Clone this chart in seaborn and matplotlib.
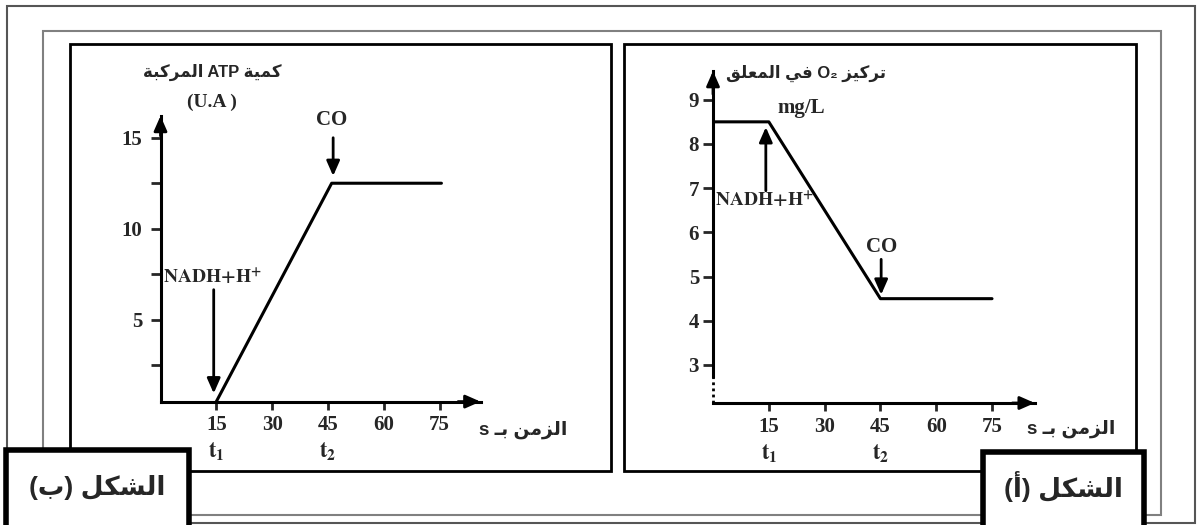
import re

import matplotlib
matplotlib.use("Agg")
import matplotlib.pyplot as plt
from matplotlib.patches import Rectangle
import seaborn as sns

# values
atp_time = [15, 46, 75.5]
atp_amount = [0.5, 12.5, 12.5]
o2_time = [0, 15, 45, 75]
o2_conc = [8.5, 8.5, 4.5, 4.5]

time_ticks = [15, 30, 45, 60, 75]
atp_ticks = [2.5, 5, 7.5, 10, 12.5, 15]
atp_tick_labels = ["", "5", "", "10", "", "15"]
o2_ticks = [3, 4, 5, 6, 7, 8, 9]

# texts
atp_ylabel = "كمية ATP المركبة"
atp_unit = "(U.A )"
o2_ylabel = "تركيز O₂ في المعلق"
o2_unit = "mg/L"
time_label = "الزمن بـ s"
fig_b_label = "الشكل (ب)"
fig_a_label = "الشكل (أ)"

# arabic letters -> (isolated, final, initial, medial)
FORMS = {
    "ا": ("\uFE8D", "\uFE8E", None, None),
    "أ": ("\uFE83", "\uFE84", None, None),
    "ب": ("\uFE8F", "\uFE90", "\uFE91", "\uFE92"),
    "ت": ("\uFE95", "\uFE96", "\uFE97", "\uFE98"),
    "ة": ("\uFE93", "\uFE94", None, None),
    "ر": ("\uFEAD", "\uFEAE", None, None),
    "ز": ("\uFEAF", "\uFEB0", None, None),
    "ش": ("\uFEB5", "\uFEB6", "\uFEB7", "\uFEB8"),
    "ع": ("\uFEC9", "\uFECA", "\uFECB", "\uFECC"),
    "ف": ("\uFED1", "\uFED2", "\uFED3", "\uFED4"),
    "ق": ("\uFED5", "\uFED6", "\uFED7", "\uFED8"),
    "ك": ("\uFED9", "\uFEDA", "\uFEDB", "\uFEDC"),
    "ل": ("\uFEDD", "\uFEDE", "\uFEDF", "\uFEE0"),
    "م": ("\uFEE1", "\uFEE2", "\uFEE3", "\uFEE4"),
    "ن": ("\uFEE5", "\uFEE6", "\uFEE7", "\uFEE8"),
    "ي": ("\uFEF1", "\uFEF2", "\uFEF3", "\uFEF4"),
    "ـ": ("\u0640", "\u0640", "\u0640", "\u0640"),
}


def rtl(text):
    # matplotlib has no arabic shaping / bidi, so do a small version here
    out = []
    for i, ch in enumerate(text):
        if ch not in FORMS:
            out.append(ch)
            continue
        prev = text[i - 1] if i > 0 else ""
        nxt = text[i + 1] if i + 1 < len(text) else ""
        jp = prev in FORMS and FORMS[prev][2] is not None
        jn = FORMS[ch][2] is not None and nxt in FORMS
        iso, fin, ini, med = FORMS[ch]
        if jp and jn:
            out.append(med)
        elif jp:
            out.append(fin)
        elif jn:
            out.append(ini)
        else:
            out.append(iso)
    vis = "".join(out)[::-1]
    vis = re.sub(r"[A-Za-z0-9₂.+/]+", lambda m: m.group(0)[::-1], vis)
    return vis.translate(str.maketrans("()", ")("))


sns.set_theme(style="white")
plt.rcParams["font.family"] = ["Liberation Serif", "DejaVu Serif"]
plt.rcParams["font.weight"] = "bold"
plt.rcParams["mathtext.fontset"] = "stix"
AR_FONT = ["Liberation Sans", "DejaVu Sans"]

W, H = 1200, 525
fig = plt.figure(figsize=(12, 5.25), dpi=100)
fig.patch.set_facecolor("white")


def px_box(l, t, r, b):
    return [l / W, 1 - b / H, (r - l) / W, (b - t) / H]


def frame(l, t, r, b, color, lw, fill=False, z=1):
    fig.add_artist(Rectangle((l / W, 1 - b / H), (r - l) / W, (b - t) / H,
                             transform=fig.transFigure, fill=fill,
                             facecolor="white", edgecolor=color, lw=lw, zorder=z))


frame(7, 6, 1195, 523, "#555555", 1.5)
frame(43, 31, 1161, 515, "#808080", 1.5)
frame(70, 44, 611, 471, "black", 2)
frame(624, 44, 1136, 471, "black", 2)

arrow_kw = dict(arrowstyle="-|>,head_length=0.5,head_width=0.22", color="black",
                lw=2, mutation_scale=18, shrinkA=0, shrinkB=0)


def style_axes(ax):
    ax.set_facecolor("none")
    for s in ["top", "right"]:
        ax.spines[s].set_visible(False)
    for s in ["left", "bottom"]:
        ax.spines[s].set_linewidth(2.2)
        ax.spines[s].set_color("black")
    ax.set_xlabel("")
    ax.set_ylabel("")
    ax.set_xticks(time_ticks)
    ax.tick_params(axis="x", direction="out", length=6, width=2, pad=4,
                   labelsize=15, bottom=True)
    ax.annotate("", xy=(1, 0), xycoords="axes fraction", xytext=(0.93, 0),
                arrowprops=arrow_kw)
    ax.annotate("", xy=(0, 1), xycoords="axes fraction", xytext=(0, 0.93),
                arrowprops=arrow_kw)


# ---- figure (b) : ATP ----
ax_b = fig.add_axes(px_box(160.5, 115.9, 480.5, 401.6))
sns.lineplot(x=atp_time, y=atp_amount, ax=ax_b, color="black", linewidth=2.2)
ax_b.set_xlim(0, 86)
ax_b.set_ylim(0.5, 16.2)
style_axes(ax_b)
ax_b.set_yticks(atp_ticks)
ax_b.set_yticklabels(atp_tick_labels)
ax_b.tick_params(axis="y", direction="out", length=7, width=2, pad=6,
                 labelsize=15, left=True)

ax_b.annotate("", xy=(14.3, 0.95), xytext=(14.3, 6.65), arrowprops=arrow_kw)
ax_b.text(14, 7.3, r"$\mathbf{NADH{+}H^{+}}$", ha="center", va="center", fontsize=14)
ax_b.annotate("", xy=(46.4, 12.9), xytext=(46.4, 15.0), arrowprops=arrow_kw)
ax_b.text(45.9, 16.0, "CO", ha="center", va="center", fontsize=15)
ax_b.text(13.8, 18.6, rtl(atp_ylabel), ha="center", va="center", fontsize=12,
          family=AR_FONT, fontweight="bold")
ax_b.text(13.8, 16.96, atp_unit, ha="center", va="center", fontsize=14)
ax_b.text(97.4, -1.06, rtl(time_label), ha="center", va="center", fontsize=13.5,
          family=AR_FONT, fontweight="bold")
ax_b.text(15, -2.27, r"$\mathbf{t_1}$", ha="center", va="center", fontsize=16)
ax_b.text(45, -2.27, r"$\mathbf{t_2}$", ha="center", va="center", fontsize=16)

# ---- figure (a) : O2 ----
ax_a = fig.add_axes(px_box(713, 71, 1034.8, 403))
sns.lineplot(x=o2_time, y=o2_conc, ax=ax_a, color="black", linewidth=2.2)
ax_a.set_xlim(0, 86.5)
ax_a.set_ylim(2.14, 9.65)
style_axes(ax_a)
ax_a.spines["left"].set_bounds(2.75, 9.65)
ax_a.plot([0, 0], [2.14, 2.75], color="black", lw=2, ls=(0, (1, 1.2)), clip_on=False)
ax_a.set_yticks(o2_ticks)
ax_a.tick_params(axis="y", direction="out", length=7, width=2, pad=3,
                 labelsize=15, left=True)

ax_a.annotate("", xy=(14.2, 8.38), xytext=(14.2, 6.94), arrowprops=arrow_kw)
ax_a.text(13.9, 6.71, r"$\mathbf{NADH{+}H^{+}}$", ha="center", va="center", fontsize=14)
ax_a.annotate("", xy=(45.2, 4.59), xytext=(45.2, 5.39), arrowprops=arrow_kw)
ax_a.text(45.4, 5.67, "CO", ha="center", va="center", fontsize=15)
ax_a.text(23.7, 8.82, o2_unit, ha="center", va="center", fontsize=15)
ax_a.text(24.9, 9.59, rtl(o2_ylabel), ha="center", va="center", fontsize=12,
          family=AR_FONT, fontweight="bold")
ax_a.text(96.2, 1.56, rtl(time_label), ha="center", va="center", fontsize=13.5,
          family=AR_FONT, fontweight="bold")
ax_a.text(15, 0.99, r"$\mathbf{t_1}$", ha="center", va="center", fontsize=16)
ax_a.text(45, 0.99, r"$\mathbf{t_2}$", ha="center", va="center", fontsize=16)

# label boxes
frame(6, 450, 189, 530, "black", 4, fill=True, z=5)
frame(983, 452, 1144, 530, "black", 4, fill=True, z=5)
fig.text(97 / W, 1 - 487 / H, rtl(fig_b_label), ha="center", va="center",
         fontsize=19, family=AR_FONT, fontweight="bold", zorder=6)
fig.text(1063 / W, 1 - 486 / H, rtl(fig_a_label), ha="center", va="center",
         fontsize=19, family=AR_FONT, fontweight="bold", zorder=6)

fig.savefig("out.png", dpi=100, facecolor="white")
